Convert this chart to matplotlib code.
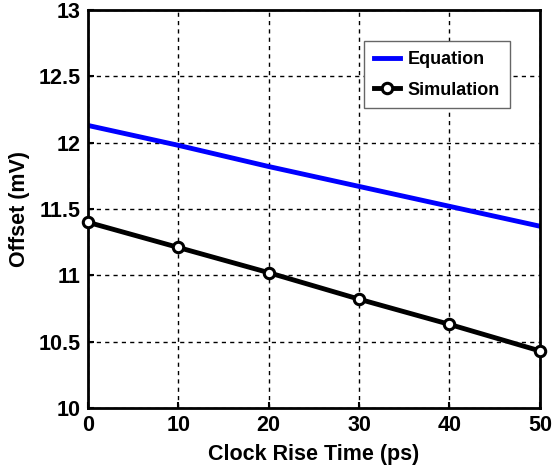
import matplotlib.pyplot as plt

# data
rise_time = [0, 10, 20, 30, 40, 50]
equation = [12.13, 11.98, 11.82, 11.67, 11.52, 11.37]
simulation = [11.40, 11.21, 11.02, 10.82, 10.63, 10.43]

plt.rcParams['font.family'] = ['Liberation Sans', 'DejaVu Sans']
plt.rcParams['font.weight'] = 'bold'

fig = plt.figure(figsize=(5.52, 4.76), dpi=100)
ax = fig.add_axes([0.159, 0.143, 0.819, 0.836])

ax.plot(rise_time, equation, color='#0000ff', lw=3.5, label='Equation')
ax.plot(rise_time, simulation, color='black', lw=3.5, marker='o', ms=7.5,
        mfc='white', mec='black', mew=2.2, label='Simulation', clip_on=False, zorder=5)

ax.set_xlim(0, 50)
ax.set_ylim(10, 13)
ax.set_xticks(rise_time)
ax.set_yticks([10, 10.5, 11, 11.5, 12, 12.5, 13])
ax.set_yticklabels(['10', '10.5', '11', '11.5', '12', '12.5', '13'])
ax.grid(True, color='black', ls=(0, (3, 3)), lw=1)
ax.tick_params(direction='in', length=4, width=1.5, labelsize=15.5, pad=5)
for s in ax.spines.values():
    s.set_linewidth(2)

ax.set_xlabel('Clock Rise Time (ps)', fontsize=15.5, fontweight='bold', labelpad=6)
ax.set_ylabel('Offset (mV)', fontsize=15.5, fontweight='bold', labelpad=6)

leg = ax.legend(loc='upper right', bbox_to_anchor=(0.934, 0.922), borderaxespad=0,
                fontsize=13, fancybox=False, edgecolor='#666666', framealpha=1,
                handlelength=1.45, handletextpad=0.45, borderpad=0.55,
                labelspacing=0.75)
leg.get_frame().set_linewidth(1)

fig.savefig('out.png', dpi=100)
